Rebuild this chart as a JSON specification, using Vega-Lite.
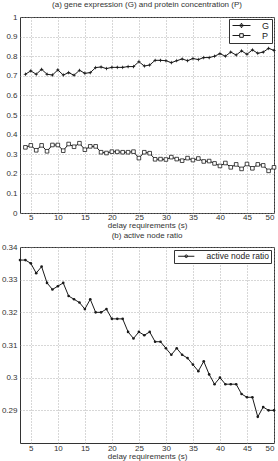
{
  "$schema": "https://vega.github.io/schema/vega-lite/v6.json",
  "background": "white",
  "padding": {"left": 0, "top": 0, "right": 3, "bottom": 0},
  "spacing": 1,
  "resolve": {
    "scale": {"shape": "independent", "x": "independent", "y": "independent"},
    "legend": {"shape": "independent"}
  },
  "config": {
    "font": "Liberation Sans",
    "view": {"stroke": "#333", "strokeWidth": 1},
    "axis": {
      "grid": true, "gridColor": "#9a9a9a", "gridDash": [1, 2], "gridWidth": 0.8,
      "domain": false, "ticks": false, "tickSize": 0,
      "labelFont": "Liberation Sans", "labelFontSize": 8, "labelColor": "#333",
      "titleFont": "Liberation Sans", "titleFontSize": 8, "titleFontWeight": "normal", "titleColor": "#333"
    },
    "title": {"font": "Liberation Sans", "fontSize": 8, "fontWeight": "normal", "color": "#333", "offset": 4},
    "legend": {
      "orient": "top-right", "title": null,
      "fillColor": "white", "strokeColor": "#333", "padding": 2, "rowPadding": 0,
      "labelFont": "Liberation Sans", "labelColor": "#222",
      "symbolSize": 36, "symbolOffset": 6, "labelOffset": 16,
      "symbolOpacity": 1, "symbolStrokeColor": "#1a1a1a", "symbolStrokeWidth": 1
    }
  },
  "datasets": {
    "expr": [
      {"delay": 4, "series": "G", "value": 0.708}, {"delay": 5, "series": "G", "value": 0.725},
      {"delay": 6, "series": "G", "value": 0.708}, {"delay": 7, "series": "G", "value": 0.733},
      {"delay": 8, "series": "G", "value": 0.708}, {"delay": 9, "series": "G", "value": 0.704},
      {"delay": 10, "series": "G", "value": 0.730}, {"delay": 11, "series": "G", "value": 0.704},
      {"delay": 12, "series": "G", "value": 0.716}, {"delay": 13, "series": "G", "value": 0.703},
      {"delay": 14, "series": "G", "value": 0.728}, {"delay": 15, "series": "G", "value": 0.713},
      {"delay": 16, "series": "G", "value": 0.716}, {"delay": 17, "series": "G", "value": 0.742},
      {"delay": 18, "series": "G", "value": 0.745}, {"delay": 19, "series": "G", "value": 0.737},
      {"delay": 20, "series": "G", "value": 0.743}, {"delay": 21, "series": "G", "value": 0.743},
      {"delay": 22, "series": "G", "value": 0.743}, {"delay": 23, "series": "G", "value": 0.747},
      {"delay": 24, "series": "G", "value": 0.747}, {"delay": 25, "series": "G", "value": 0.772},
      {"delay": 26, "series": "G", "value": 0.750}, {"delay": 27, "series": "G", "value": 0.755},
      {"delay": 28, "series": "G", "value": 0.779}, {"delay": 29, "series": "G", "value": 0.779},
      {"delay": 30, "series": "G", "value": 0.777}, {"delay": 31, "series": "G", "value": 0.767},
      {"delay": 32, "series": "G", "value": 0.777}, {"delay": 33, "series": "G", "value": 0.786},
      {"delay": 34, "series": "G", "value": 0.777}, {"delay": 35, "series": "G", "value": 0.788},
      {"delay": 36, "series": "G", "value": 0.783}, {"delay": 37, "series": "G", "value": 0.793},
      {"delay": 38, "series": "G", "value": 0.793}, {"delay": 39, "series": "G", "value": 0.800},
      {"delay": 40, "series": "G", "value": 0.813}, {"delay": 41, "series": "G", "value": 0.800},
      {"delay": 42, "series": "G", "value": 0.821}, {"delay": 43, "series": "G", "value": 0.806},
      {"delay": 44, "series": "G", "value": 0.827}, {"delay": 45, "series": "G", "value": 0.810},
      {"delay": 46, "series": "G", "value": 0.832}, {"delay": 47, "series": "G", "value": 0.815},
      {"delay": 48, "series": "G", "value": 0.821}, {"delay": 49, "series": "G", "value": 0.840},
      {"delay": 50, "series": "G", "value": 0.830},
      {"delay": 4, "series": "P", "value": 0.335}, {"delay": 5, "series": "P", "value": 0.345},
      {"delay": 6, "series": "P", "value": 0.320}, {"delay": 7, "series": "P", "value": 0.345},
      {"delay": 8, "series": "P", "value": 0.315}, {"delay": 9, "series": "P", "value": 0.347},
      {"delay": 10, "series": "P", "value": 0.347}, {"delay": 11, "series": "P", "value": 0.318},
      {"delay": 12, "series": "P", "value": 0.352}, {"delay": 13, "series": "P", "value": 0.338},
      {"delay": 14, "series": "P", "value": 0.356}, {"delay": 15, "series": "P", "value": 0.323},
      {"delay": 16, "series": "P", "value": 0.340}, {"delay": 17, "series": "P", "value": 0.340},
      {"delay": 18, "series": "P", "value": 0.310}, {"delay": 19, "series": "P", "value": 0.306},
      {"delay": 20, "series": "P", "value": 0.313}, {"delay": 21, "series": "P", "value": 0.312},
      {"delay": 22, "series": "P", "value": 0.310}, {"delay": 23, "series": "P", "value": 0.310},
      {"delay": 24, "series": "P", "value": 0.313}, {"delay": 25, "series": "P", "value": 0.280},
      {"delay": 26, "series": "P", "value": 0.310}, {"delay": 27, "series": "P", "value": 0.305},
      {"delay": 28, "series": "P", "value": 0.274}, {"delay": 29, "series": "P", "value": 0.275},
      {"delay": 30, "series": "P", "value": 0.273}, {"delay": 31, "series": "P", "value": 0.285},
      {"delay": 32, "series": "P", "value": 0.275}, {"delay": 33, "series": "P", "value": 0.267},
      {"delay": 34, "series": "P", "value": 0.280}, {"delay": 35, "series": "P", "value": 0.270},
      {"delay": 36, "series": "P", "value": 0.278}, {"delay": 37, "series": "P", "value": 0.263},
      {"delay": 38, "series": "P", "value": 0.265}, {"delay": 39, "series": "P", "value": 0.253},
      {"delay": 40, "series": "P", "value": 0.240}, {"delay": 41, "series": "P", "value": 0.255},
      {"delay": 42, "series": "P", "value": 0.233}, {"delay": 43, "series": "P", "value": 0.248},
      {"delay": 44, "series": "P", "value": 0.225}, {"delay": 45, "series": "P", "value": 0.250},
      {"delay": 46, "series": "P", "value": 0.228}, {"delay": 47, "series": "P", "value": 0.248},
      {"delay": 48, "series": "P", "value": 0.243}, {"delay": 49, "series": "P", "value": 0.215},
      {"delay": 50, "series": "P", "value": 0.233}
    ],
    "ratio": [
      {"delay": 3, "series": "active node ratio", "ratio": 0.336}, {"delay": 4, "series": "active node ratio", "ratio": 0.336},
      {"delay": 5, "series": "active node ratio", "ratio": 0.335}, {"delay": 6, "series": "active node ratio", "ratio": 0.332},
      {"delay": 7, "series": "active node ratio", "ratio": 0.334}, {"delay": 8, "series": "active node ratio", "ratio": 0.329},
      {"delay": 9, "series": "active node ratio", "ratio": 0.327}, {"delay": 10, "series": "active node ratio", "ratio": 0.328},
      {"delay": 11, "series": "active node ratio", "ratio": 0.329}, {"delay": 12, "series": "active node ratio", "ratio": 0.325},
      {"delay": 13, "series": "active node ratio", "ratio": 0.324}, {"delay": 14, "series": "active node ratio", "ratio": 0.323},
      {"delay": 15, "series": "active node ratio", "ratio": 0.321}, {"delay": 16, "series": "active node ratio", "ratio": 0.324},
      {"delay": 17, "series": "active node ratio", "ratio": 0.320}, {"delay": 18, "series": "active node ratio", "ratio": 0.320},
      {"delay": 19, "series": "active node ratio", "ratio": 0.321}, {"delay": 20, "series": "active node ratio", "ratio": 0.318},
      {"delay": 21, "series": "active node ratio", "ratio": 0.318}, {"delay": 22, "series": "active node ratio", "ratio": 0.318},
      {"delay": 23, "series": "active node ratio", "ratio": 0.314}, {"delay": 24, "series": "active node ratio", "ratio": 0.312},
      {"delay": 25, "series": "active node ratio", "ratio": 0.314}, {"delay": 26, "series": "active node ratio", "ratio": 0.313},
      {"delay": 27, "series": "active node ratio", "ratio": 0.314}, {"delay": 28, "series": "active node ratio", "ratio": 0.311},
      {"delay": 29, "series": "active node ratio", "ratio": 0.311}, {"delay": 30, "series": "active node ratio", "ratio": 0.309},
      {"delay": 31, "series": "active node ratio", "ratio": 0.307}, {"delay": 32, "series": "active node ratio", "ratio": 0.309},
      {"delay": 33, "series": "active node ratio", "ratio": 0.307}, {"delay": 34, "series": "active node ratio", "ratio": 0.306},
      {"delay": 35, "series": "active node ratio", "ratio": 0.304}, {"delay": 36, "series": "active node ratio", "ratio": 0.302},
      {"delay": 37, "series": "active node ratio", "ratio": 0.305}, {"delay": 38, "series": "active node ratio", "ratio": 0.301},
      {"delay": 39, "series": "active node ratio", "ratio": 0.298}, {"delay": 40, "series": "active node ratio", "ratio": 0.300},
      {"delay": 41, "series": "active node ratio", "ratio": 0.298}, {"delay": 42, "series": "active node ratio", "ratio": 0.298},
      {"delay": 43, "series": "active node ratio", "ratio": 0.298}, {"delay": 44, "series": "active node ratio", "ratio": 0.295},
      {"delay": 45, "series": "active node ratio", "ratio": 0.294}, {"delay": 46, "series": "active node ratio", "ratio": 0.294},
      {"delay": 47, "series": "active node ratio", "ratio": 0.288}, {"delay": 48, "series": "active node ratio", "ratio": 0.291},
      {"delay": 49, "series": "active node ratio", "ratio": 0.290}, {"delay": 50, "series": "active node ratio", "ratio": 0.290}
    ]
  },
  "vconcat": [
    {
      "title": {"text": "(a) gene expression (G) and protein concentration (P)"},
      "width": 254,
      "height": 196,
      "data": {"name": "expr"},
      "encoding": {
        "x": {
          "field": "delay", "type": "quantitative",
          "scale": {"domain": [3, 50], "nice": false, "zero": false},
          "axis": {"values": [5, 10, 15, 20, 25, 30, 35, 40, 45, 50], "title": "delay requirements (s)", "labelPadding": 0, "titlePadding": 0}
        },
        "y": {
          "field": "value", "type": "quantitative",
          "scale": {"domain": [0, 1], "nice": false},
          "axis": {"values": [0, 0.1, 0.2, 0.3, 0.4, 0.5, 0.6, 0.7, 0.8, 0.9, 1], "format": "~g", "title": null, "labelPadding": 3, "minExtent": 19, "maxExtent": 19}
        }
      },
      "layer": [
        {
          "mark": {"type": "line", "color": "#1a1a1a", "strokeWidth": 1},
          "encoding": {"detail": {"field": "series"}}
        },
        {
          "transform": [{"filter": "datum.series === 'G'"}],
          "mark": {"type": "point", "filled": true, "color": "#1a1a1a", "opacity": 1, "size": 14,
                   "shape": "M0,-1.15L0.3,-0.3L1.15,0L0.3,0.3L0,1.15L-0.3,0.3L-1.15,0L-0.3,-0.3Z"}
        },
        {
          "transform": [{"filter": "datum.series === 'P'"}],
          "mark": {"type": "point", "shape": "square", "fill": "#ffffff", "stroke": "#1a1a1a", "strokeWidth": 0.8, "opacity": 1, "size": 13}
        },
        {
          "mark": {"type": "point", "opacity": 0, "filled": false, "color": "#1a1a1a"},
          "encoding": {
            "shape": {
              "field": "series", "type": "nominal",
              "scale": {"domain": ["G", "P"], "range": [
                "M-3,0H3M0,-0.8L0.22,-0.22L0.8,0L0.22,0.22L0,0.8L-0.22,0.22L-0.8,0L-0.22,-0.22Z",
                "M-3,0H-0.6M0.6,0H3M-0.6,-0.6H0.6V0.6H-0.6Z"
              ]},
              "legend": {
                "offset": 2, "labelFontSize": 9,
                "encode": {
                  "symbols": {
                    "update": {
                      "fill": {"signal": "datum.value === 'G' ? '#1a1a1a' : '#ffffff'"},
                      "stroke": {"value": "#1a1a1a"},
                      "strokeWidth": {"value": 1},
                      "opacity": {"value": 1}
                    }
                  }
                }
              }
            }
          }
        }
      ]
    },
    {
      "title": {"text": "(b) active node ratio", "offset": 3},
      "width": 254,
      "height": 196,
      "data": {"name": "ratio"},
      "encoding": {
        "x": {
          "field": "delay", "type": "quantitative",
          "scale": {"domain": [3, 50], "nice": false, "zero": false},
          "axis": {"values": [5, 10, 15, 20, 25, 30, 35, 40, 45, 50], "title": "delay requirements (s)", "labelPadding": 1, "titlePadding": 0}
        },
        "y": {
          "field": "ratio", "type": "quantitative",
          "scale": {"domain": [0.28, 0.34], "nice": false, "zero": false},
          "axis": {"values": [0.29, 0.3, 0.31, 0.32, 0.33, 0.34], "format": "~g", "title": null, "labelPadding": 3, "minExtent": 19, "maxExtent": 19}
        }
      },
      "layer": [
        {
          "mark": {"type": "line", "color": "#1a1a1a", "strokeWidth": 1}
        },
        {
          "mark": {"type": "point", "shape": "circle", "filled": true, "color": "#1a1a1a", "opacity": 1, "size": 7}
        },
        {
          "mark": {"type": "point", "opacity": 0, "filled": false, "color": "#1a1a1a"},
          "encoding": {
            "shape": {
              "field": "series", "type": "nominal",
              "scale": {"domain": ["active node ratio"], "range": ["M-2.7,0H2.7M0.45,0A0.45,0.45 0 1,1 -0.45,0A0.45,0.45 0 1,1 0.45,0Z"]},
              "legend": {
                "offset": 3, "labelFontSize": 8.5,
                "encode": {
                  "symbols": {
                    "update": {
                      "fill": {"value": "#1a1a1a"},
                      "stroke": {"value": "#1a1a1a"},
                      "strokeWidth": {"value": 1},
                      "opacity": {"value": 1}
                    }
                  }
                }
              }
            }
          }
        }
      ]
    }
  ]
}
